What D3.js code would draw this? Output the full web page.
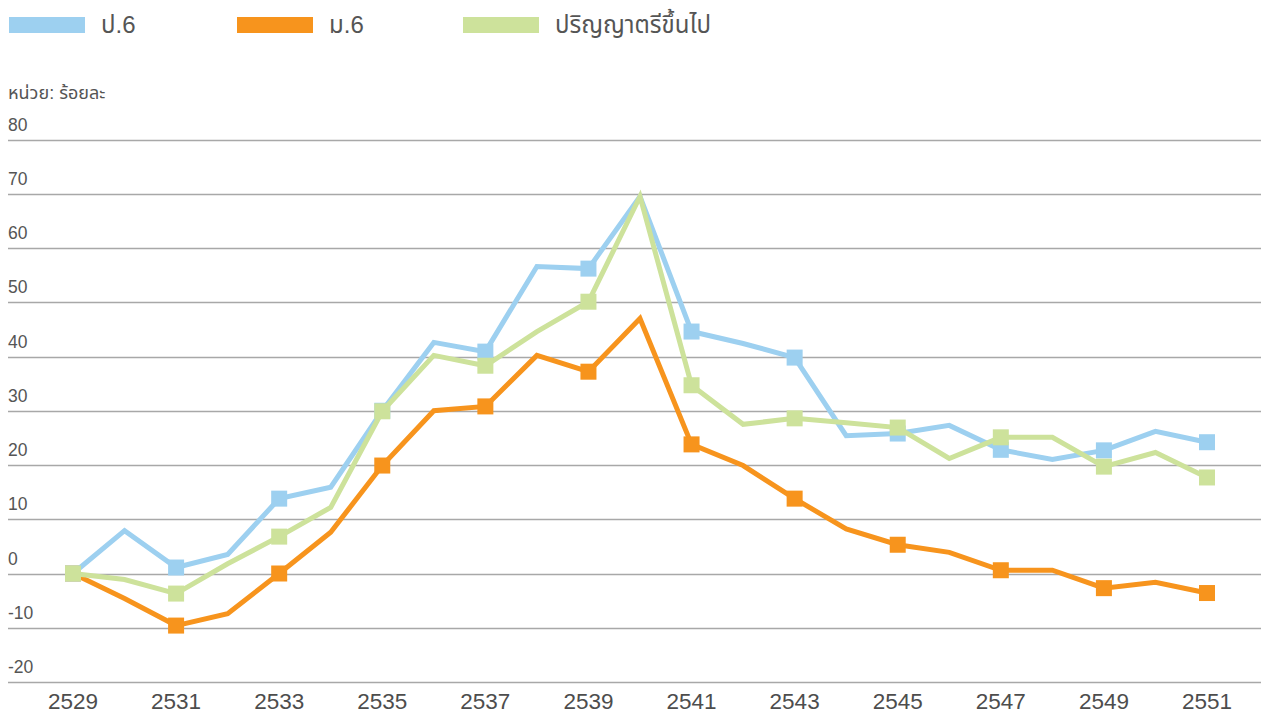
<!DOCTYPE html>
<html lang="th">
    <head>
        <meta charset="utf-8">
        <title>Chart</title>
        <style>
            body { margin: 0; background: #fff; }
            svg { display: block; font-family: "Liberation Sans", "Noto Sans Thai", "Noto Sans", sans-serif; }
            .grid line { stroke: #a8a8a8; stroke-width: 1.5; }
            .ylab { fill: #555; font-size: 17.5px; }
            .unit { fill: #555; font-size: 18px; }
            .xlab { fill: #4d4d4d; font-size: 22.5px; }
            .legend text { fill: #555; font-size: 24px; }
        </style>
    </head>
    <body>
        <svg width="1261" height="714"></svg>
        <script src="https://d3js.org/d3.v7.min.js"></script>
        <script>
            var years = d3.range(2529, 2552);
            var yTicks = [80, 70, 60, 50, 40, 30, 20, 10, 0, -10, -20];
            var xTicks = [2529, 2531, 2533, 2535, 2537, 2539, 2541, 2543, 2545, 2547, 2549, 2551];

            var primary = [0, 7.9, 1.1, 3.5, 13.8, 15.9, 30, 42.6, 40.9, 56.6, 56.2, 69.5,
                           44.6, 42.4, 39.8, 25.4, 25.8, 27.3, 22.8, 21, 22.7, 26.2, 24.2];
            var secondary = [0, -4.6, -9.6, -7.4, 0, 7.6, 19.9, 30, 30.8, 40.2, 37.2, 47,
                             23.8, 19.9, 13.8, 8.2, 5.3, 3.9, 0.6, 0.6, -2.7, -1.6, -3.6];
            var bachelor = [0, -1.1, -3.7, 1.8, 6.8, 12.2, 29.9, 40.2, 38.3, 44.6, 50.1, 69.5,
                            34.7, 27.5, 28.6, 27.8, 26.9, 21.2, 25.1, 25.1, 19.7, 22.3, 17.7];

            var series = [
                {name: "ม.6", color: "#f7941d", values: secondary},
                {name: "ป.6", color: "#9dd0f0", values: primary},
                {name: "ปริญญาตรีขึ้นไป", color: "#cde29b", values: bachelor}
            ];
            var legendOrder = [series[1], series[0], series[2]];

            var svg = d3.select("svg");

            var x = d3.scaleLinear().domain([2529, 2551]).range([73, 1207]);
            var y = d3.scaleLinear().domain([-20, 80]).range([682, 139.5]);

            // gridlines + labels above them
            var grid = svg.append("g").attr("class", "grid");
            grid.selectAll("line").data(yTicks).enter().append("line")
                .attr("x1", 8).attr("x2", 1261)
                .attr("y1", function(d) { return Math.round(y(d)) + 0.5; })
                .attr("y2", function(d) { return Math.round(y(d)) + 0.5; });
            svg.selectAll(".ylab").data(yTicks).enter().append("text")
                .attr("class", "ylab")
                .attr("x", 8)
                .attr("y", function(d) { return y(d) - 9; })
                .text(function(d) { return d; });

            svg.append("text").attr("class", "unit")
                .attr("x", 8).attr("y", 99)
                .text("หน่วย: ร้อยละ");

            svg.selectAll(".xlab").data(xTicks).enter().append("text")
                .attr("class", "xlab")
                .attr("x", function(d) { return x(d); })
                .attr("y", 709)
                .attr("text-anchor", "middle")
                .text(function(d) { return d; });

            var line = d3.line()
                .x(function(d, i) { return x(years[i]); })
                .y(function(d) { return y(d); });

            series.forEach(function(s) {
                var g = svg.append("g");
                g.append("path")
                    .attr("d", line(s.values))
                    .attr("fill", "none")
                    .attr("stroke", s.color)
                    .attr("stroke-width", 5)
                    .attr("stroke-linejoin", "miter");
                var pts = s.values.map(function(v, i) { return {yr: years[i], v: v}; })
                    .filter(function(d) { return (d.yr - 2529) % 2 === 0; });
                g.selectAll("rect").data(pts).enter().append("rect")
                    .attr("x", function(d) { return x(d.yr) - 8; })
                    .attr("y", function(d) { return y(d.v) - 8; })
                    .attr("width", 16).attr("height", 16)
                    .attr("fill", s.color);
            });

            var legX = [9, 237, 463];
            var leg = svg.append("g").attr("class", "legend");
            legendOrder.forEach(function(s, i) {
                leg.append("rect")
                    .attr("x", legX[i]).attr("y", 17)
                    .attr("width", 76).attr("height", 16)
                    .attr("fill", s.color);
                leg.append("text")
                    .attr("x", legX[i] + 92).attr("y", 33)
                    .text(s.name);
            });
        </script>
    </body>
</html>
